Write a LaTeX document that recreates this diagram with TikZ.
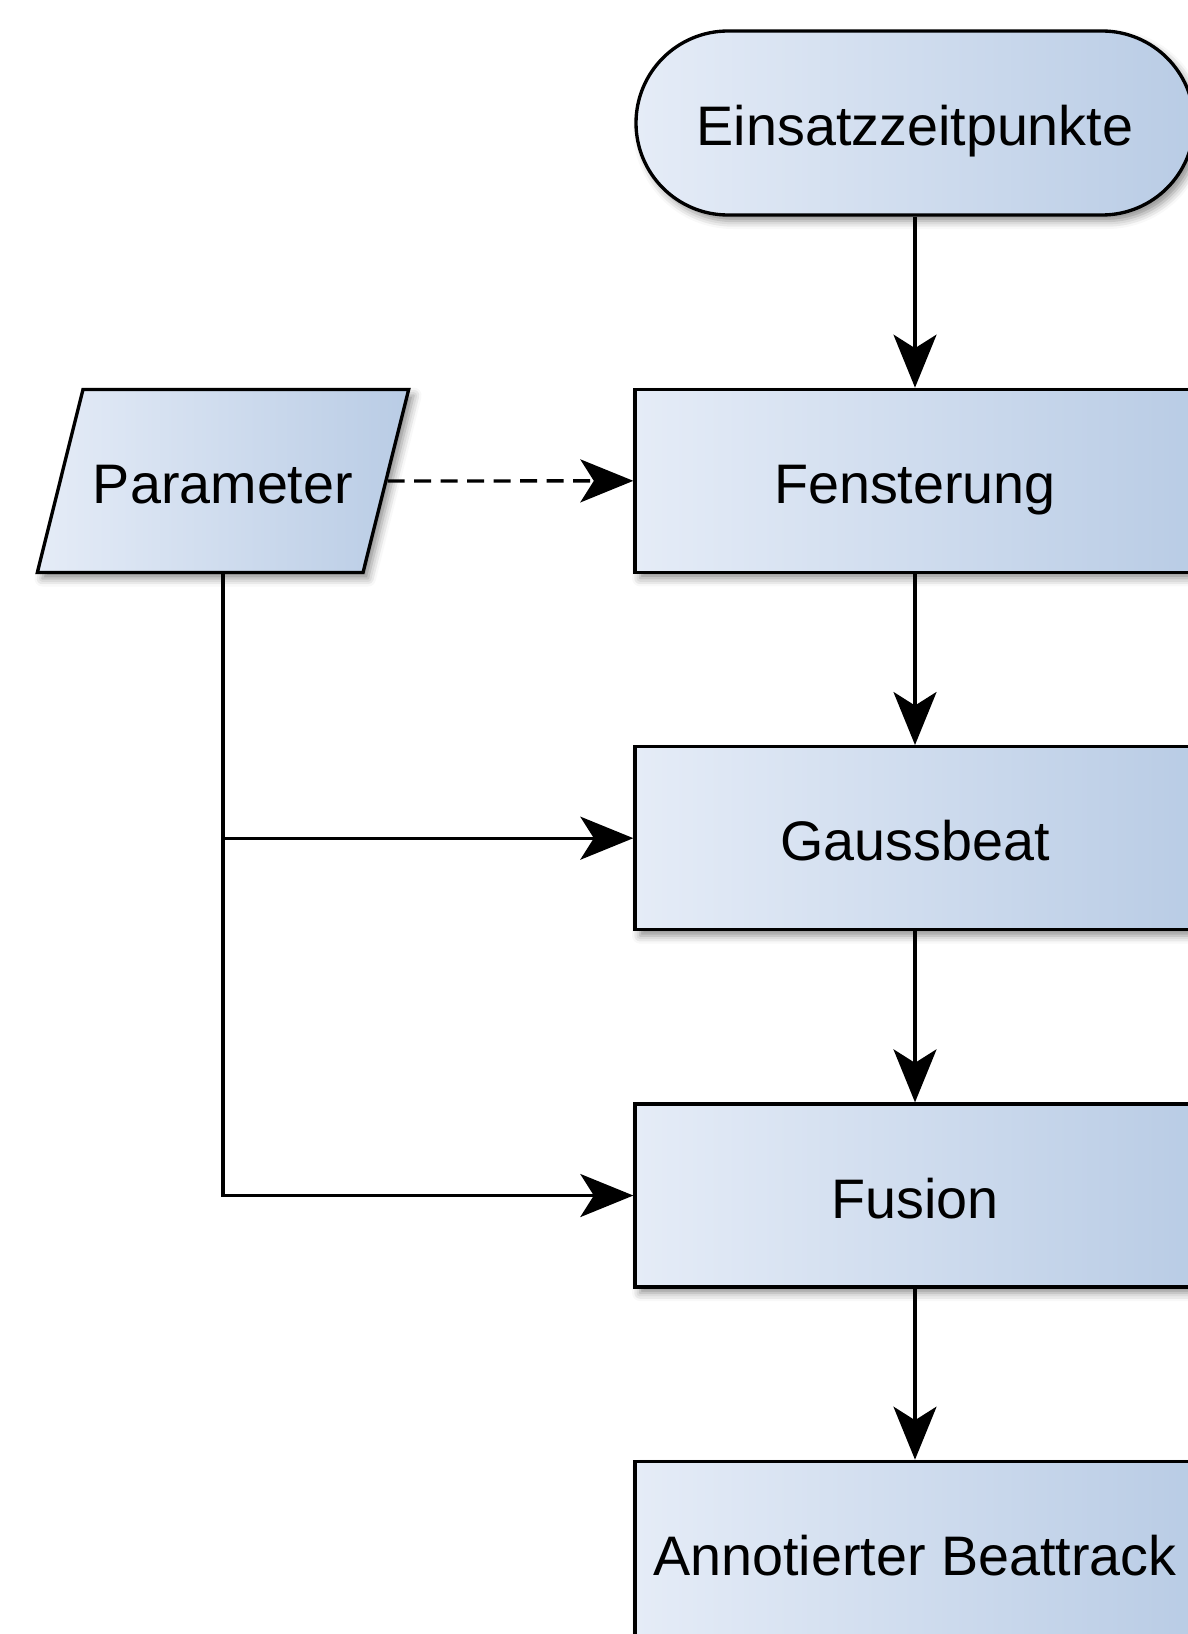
\documentclass[tikz,border=0pt]{standalone}
\usepackage{fontspec}
\setmainfont{Liberation Sans}
\usetikzlibrary{positioning,shapes.geometric,shadows.blur,arrows.meta}
\definecolor{boxleft}{RGB}{229,236,247}
\definecolor{boxright}{RGB}{185,204,229}
\tikzset{every node/.style={font=\fontsize{31.7}{38}\selectfont, line width=1.9pt, draw=black, left color=boxleft, right color=boxright, text height=0.9cm, text depth=0cm, blur shadow={shadow xshift=0.1cm, shadow yshift=-0.12cm, shadow blur radius=0.16cm, shadow opacity=45}},
  proc/.style={rectangle, minimum width=11.2cm, minimum height=3.66cm},
  term/.style={rectangle, rounded corners=1.84cm, minimum width=11.16cm, minimum height=3.68cm},
  io/.style={trapezium, trapezium left angle=76, trapezium right angle=104, inner xsep=0.2cm, inner ysep=1.38cm},
  arr/.style={line width=1.9pt, -{Stealth[length=1.06cm,width=0.86cm,inset=0.27cm]}}}

\begin{document}
\begin{tikzpicture}[node distance=3.42cm]
  \useasboundingbox (0,0) rectangle (23.76,-32.68);
  \clip (0,0) rectangle (23.76,-32.68);
  \node[term] (start) at (18.3,-2.46) {Einsatzzeitpunkte};
  \node[proc, below=of start] (fenster) {Fensterung};
  \node[proc, below=of fenster] (gauss) {Gaussbeat};
  \node[proc, below=of gauss] (fusion) {Fusion};
  \node[proc, below=of fusion] (track) {Annotierter Beattrack};
  \node[io] (param) at (4.46,-9.62) {Parameter};
  \draw[arr] (start) -- (fenster);
  \draw[arr] (fenster) -- (gauss);
  \draw[arr] (gauss) -- (fusion);
  \draw[arr] (fusion) -- (track);
  \draw[arr, dash pattern=on 0.34cm off 0.19cm] (param.east) -- (fenster.west);
  \draw[arr] (param.south) |- (gauss.west);
  \draw[arr] (param.south) |- (fusion.west);
 \end{tikzpicture}
\end{document}
